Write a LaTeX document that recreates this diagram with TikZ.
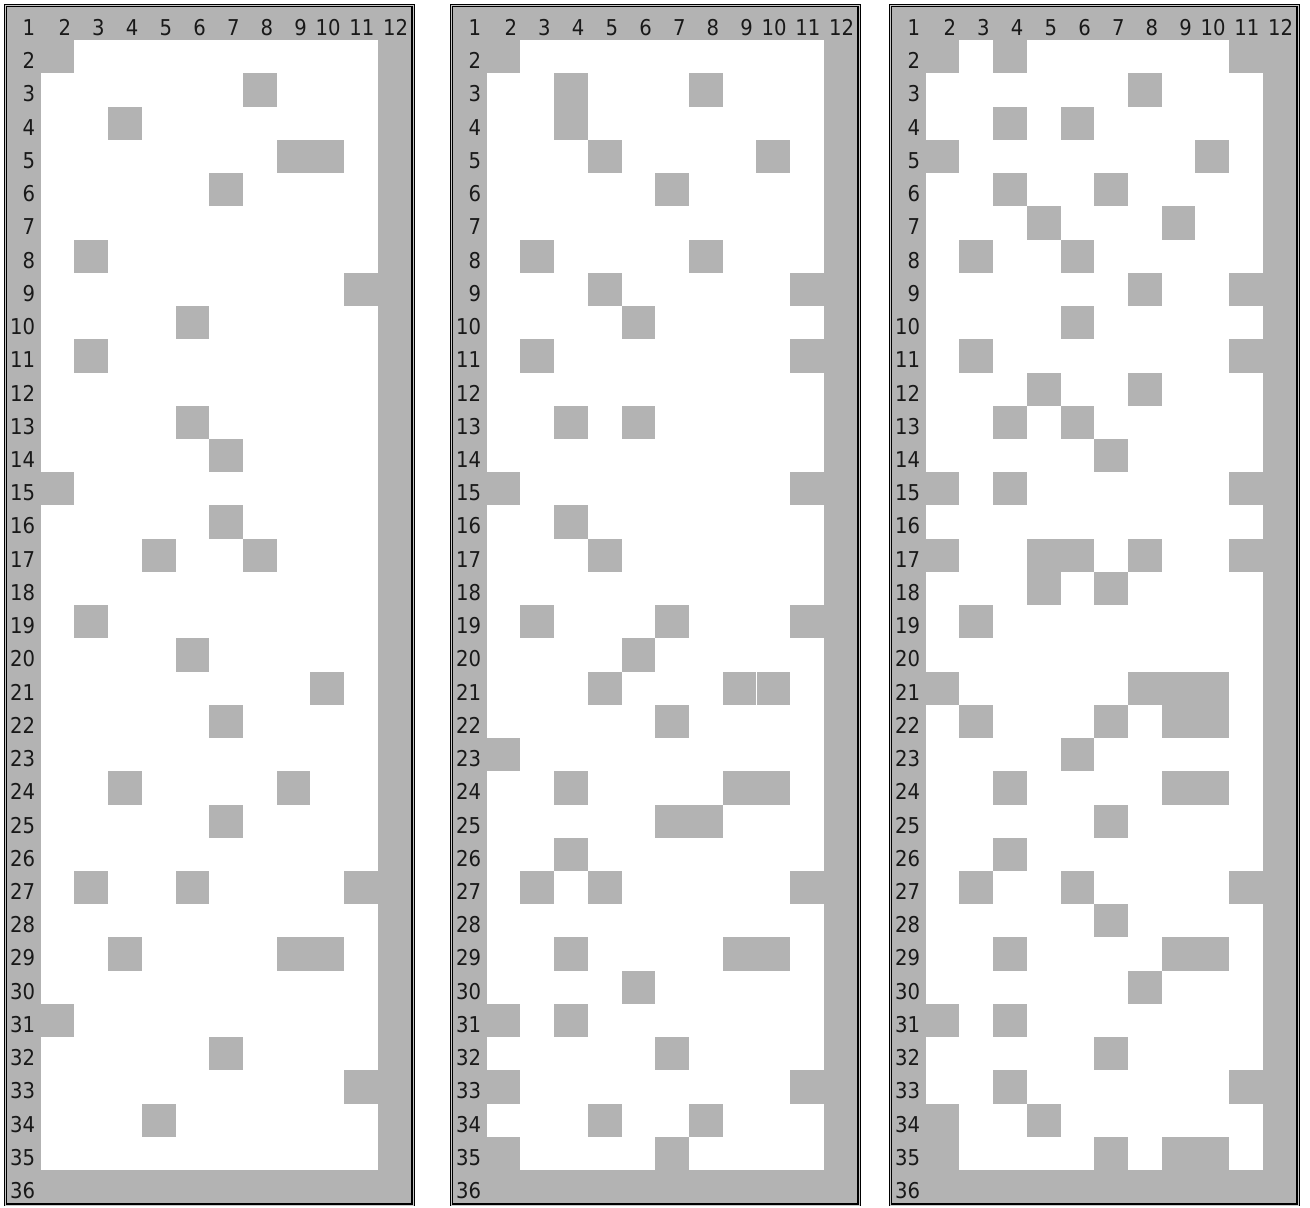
\documentclass[tikz,border=0pt]{standalone}
\usepackage{fontspec}
\setmainfont{DejaVu Sans Condensed}
\definecolor{cellgray}{RGB}{179,179,179}
\newcommand{\cellw}{33.7}
\newcommand{\cellh}{33.23}
\newcommand{\gridpanel}[3]{%
  \begin{scope}[shift={(#2,7)}]
    \fill[cellgray] (0,0) rectangle ({12*\cellw},\cellh);
    \fill[cellgray] (0,0) rectangle (\cellw,{36*\cellh});
    \fill[cellgray] ({11*\cellw},0) rectangle ({12*\cellw},{36*\cellh});
    \fill[cellgray] (0,{35*\cellh}) rectangle ({12*\cellw},{36*\cellh});
    \foreach \row/\cola/\colb in {#3}
      \fill[cellgray] ({(\cola-1)*\cellw},{(\row-1)*\cellh}) rectangle ({\colb*\cellw},{\row*\cellh});
    \foreach \k in {2,...,12}
      \node[lbl] (#1c\k) at ({\k*\cellw-3},28.5) {\k};
    \foreach \k in {1,...,36}
      \node[lbl] (#1r\k) at (28.5,{28.5+(\k-1)*\cellh}) {\k};
    \draw[frame] (-1.5,-1.5) rectangle ({12*\cellw+1.5},{36*\cellh+1.5});
  \end{scope}}

\begin{document}
\begin{tikzpicture}[x=0.5pt,y=-0.5pt,
  lbl/.style={anchor=base east,inner sep=0pt,text=black!90,font=\fontsize{10.9}{12}\selectfont},
  frame/.style={draw=black,line width=0.7pt,double=gray!45,double distance=0.25pt}]
  \useasboundingbox (0,0) rectangle (1310,1208);
  \fill[white] (0,0) rectangle (1310,1208);
  \gridpanel{a}{7}{2/2/2, 3/8/8, 4/4/4, 5/9/10, 6/7/7, 8/3/3, 9/11/11, 10/6/6, 11/3/3,
    13/6/6, 14/7/7, 15/2/2, 16/7/7, 17/5/5, 17/8/8, 19/3/3, 20/6/6, 21/10/10, 22/7/7,
    24/4/4, 24/9/9, 25/7/7, 27/3/3, 27/6/6, 27/11/11, 29/4/4, 29/9/10, 31/2/2, 32/7/7,
    33/11/11, 34/5/5}
  \gridpanel{b}{453}{2/2/2, 3/4/4, 4/4/4, 3/8/8, 5/5/5, 5/10/10, 6/7/7, 8/3/3, 8/8/8,
    9/5/5, 9/11/11, 10/6/6, 11/3/3, 11/11/11, 13/4/4, 13/6/6, 15/2/2, 15/11/11, 16/4/4,
    17/5/5, 19/3/3, 19/7/7, 19/11/11, 20/6/6, 21/5/5, 21/9/9, 21/10/10, 22/7/7, 23/2/2,
    24/4/4, 24/9/10, 25/7/8, 26/4/4, 27/3/3, 27/5/5, 27/11/11, 29/4/4, 29/9/10, 30/6/6,
    31/2/2, 31/4/4, 32/7/7, 33/2/2, 33/11/11, 34/5/5, 34/8/8, 35/2/2, 35/7/7}
  \gridpanel{c}{892}{2/2/2, 2/4/4, 2/11/11, 3/8/8, 4/4/4, 4/6/6, 5/2/2, 5/10/10, 6/4/4,
    6/7/7, 7/5/5, 7/9/9, 8/3/3, 8/6/6, 9/8/8, 9/11/11, 10/6/6, 11/3/3, 11/11/11, 12/5/5,
    12/8/8, 13/4/4, 13/6/6, 14/7/7, 15/2/2, 15/4/4, 15/11/11, 17/2/2, 17/5/6, 17/8/8,
    17/11/11, 18/5/5, 18/7/7, 19/3/3, 21/2/2, 21/8/10, 22/3/3, 22/7/7, 22/9/10, 23/6/6,
    24/4/4, 24/9/10, 25/7/7, 26/4/4, 27/3/3, 27/6/6, 27/11/11, 28/7/7, 29/4/4, 29/9/10,
    30/8/8, 31/2/2, 31/4/4, 32/7/7, 33/4/4, 33/11/11, 34/2/2, 34/5/5, 35/2/2, 35/7/7,
    35/9/10}
  \draw[white,line width=0.5pt] ({453+9*\cellw},{7+20*\cellh}) -- ({453+9*\cellw},{7+21*\cellh});
\end{tikzpicture}
\end{document}
